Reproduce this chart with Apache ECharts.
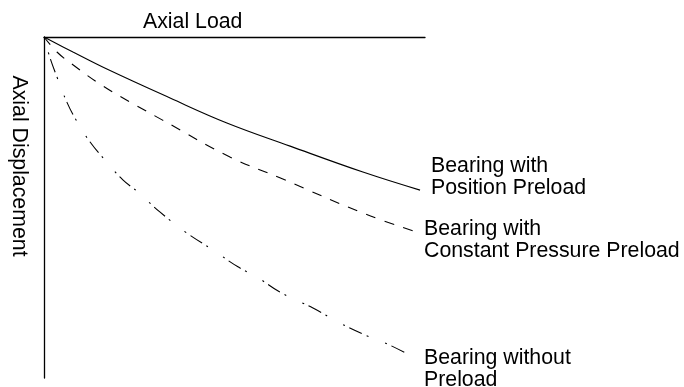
<!DOCTYPE html>
<html>
<head>
<meta charset="utf-8">
<script src="https://cdn.jsdelivr.net/npm/echarts@6/dist/echarts.min.js"></script>
<style>html,body{margin:0;padding:0;background:#fff}#c{width:684px;height:387px}</style>
</head>
<body>
<div id="c"></div>
<script>
// Axial load (x) vs axial displacement (y, downward), relative units 0-10
var positionPreload = [[0,0],[0.76,0.44],[1.65,0.94],[3.31,1.79],[4.80,2.52],[6.46,3.20],[8.37,3.96],[9.87,4.49]];
var constantPressurePreload = [[0,0],[0.34,0.44],[0.73,0.79],[1.55,1.44],[2.44,2.02],[3.10,2.43],[4.88,3.52],[6.19,4.13],[8.43,5.19],[9.87,5.75]];
var withoutPreload = [[0,0],[0.16,0.62],[0.34,1.17],[0.60,1.91],[0.87,2.49],[1.21,3.08],[1.60,3.61],[2.07,4.19],[2.47,4.55],[3.04,5.13],[3.75,5.75],[4.44,6.25],[5.09,6.74],[5.59,7.04],[6.19,7.48],[7.06,7.95],[7.77,8.39],[8.43,8.74],[8.95,8.97],[9.55,9.30]];
var xAxisTitle = 'Axial Load';
var yAxisTitle = 'Axial Displacement';
var seriesNames = ['Bearing with\nPosition Preload', 'Bearing with\nConstant Pressure Preload', 'Bearing without\nPreload'];

var font = '"Liberation Sans", Arial, Helvetica, sans-serif';
var chart = echarts.init(document.getElementById('c'), null, {renderer: 'canvas'});
function lbl(text, x, y, rot) {
  var o = {type: 'text', x: x, y: y, silent: true,
    style: {text: text, fill: '#000', font: '21.3px ' + font, lineHeight: 22, textVerticalAlign: 'top', textAlign: 'left'}};
  if (rot !== undefined) { o.rotation = rot; o.style.textAlign = 'center'; o.style.textVerticalAlign = 'middle'; }
  return o;
}
chart.setOption({
  animation: false,
  grid: {left: 44, top: 37, width: 381, height: 341, containLabel: false},
  xAxis: {type: 'value', position: 'top', min: 0, max: 10,
    axisLine: {show: true, lineStyle: {color: '#000', width: 1.3}},
    axisTick: {show: false}, axisLabel: {show: false}, splitLine: {show: false}},
  yAxis: {type: 'value', inverse: true, min: 0, max: 10,
    axisLine: {show: true, onZero: false, lineStyle: {color: '#000', width: 1.3}},
    axisTick: {show: false}, axisLabel: {show: false}, splitLine: {show: false}},
  series: [
    {type: 'line', name: seriesNames[0], data: positionPreload, smooth: 0.4, symbol: 'none',
      lineStyle: {color: '#000', width: 1.1, type: 'solid'}},
    {type: 'line', name: seriesNames[1], data: constantPressurePreload, smooth: 0.4, symbol: 'none',
      lineStyle: {color: '#000', width: 1.1, type: [10, 9.5]}},
    {type: 'line', name: seriesNames[2], data: withoutPreload, smooth: 0.4, symbol: 'none',
      lineStyle: {color: '#000', width: 1.1, type: [2, 5, 14, 5, 2, 18], dashOffset: 30}}
  ],
  graphic: [
    lbl(xAxisTitle, 143, 11),
    lbl(yAxisTitle, 19, 166, -Math.PI / 2),
    lbl(seriesNames[0], 431, 155),
    lbl(seriesNames[1], 424, 218),
    lbl(seriesNames[2], 424, 347)
  ]
});
</script>
</body>
</html>
